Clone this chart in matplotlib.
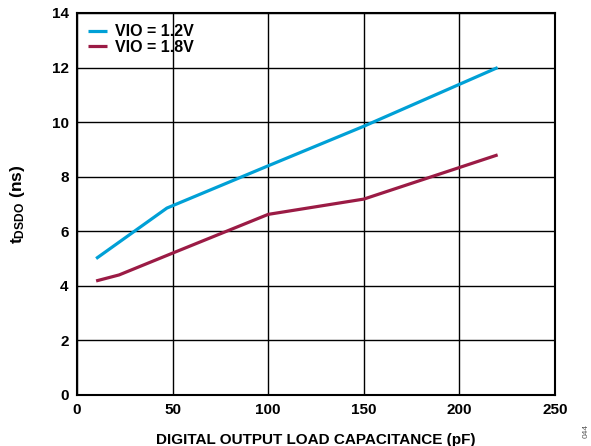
import matplotlib
matplotlib.use("Agg")
import matplotlib.pyplot as plt

plt.rcParams['font.family'] = ['Liberation Sans', 'DejaVu Sans']
plt.rcParams['mathtext.fontset'] = 'custom'
plt.rcParams['mathtext.rm'] = 'Liberation Sans:bold'
plt.rcParams['mathtext.bf'] = 'Liberation Sans:bold'

x_12 = [10, 47, 100, 150, 220]
y_12 = [5.0, 6.85, 8.4, 9.85, 12.0]
x_18 = [10, 22, 50, 100, 150, 220]
y_18 = [4.18, 4.4, 5.2, 6.62, 7.18, 8.8]
labels = ["VIO = 1.2V", "VIO = 1.8V"]
colors = ["#00a0d6", "#9b1b45"]
xticks = [0, 50, 100, 150, 200, 250]
yticks = [0, 2, 4, 6, 8, 10, 12, 14]

fig = plt.figure(figsize=(5.91, 4.46), dpi=100)
ax = fig.add_axes([77/591, 1 - 395/446, (555-77)/591, (395-13)/446])

ax.plot(x_12, y_12, color=colors[0], lw=2.3, label=labels[0], solid_capstyle='butt')
ax.plot(x_18, y_18, color=colors[1], lw=2.3, label=labels[1], solid_capstyle='butt')

ax.set_xlim(0, 250)
ax.set_ylim(0, 14)
ax.set_xticks(xticks)
ax.set_yticks(yticks)
ax.grid(True, color='black', lw=1.0)
ax.set_axisbelow(True)
for s in ax.spines.values():
    s.set_linewidth(1.5)
ax.tick_params(length=0, pad=6, labelsize=11)
for t in ax.get_xticklabels() + ax.get_yticklabels():
    t.set_fontweight('bold')

ax.set_xlabel("DIGITAL OUTPUT LOAD CAPACITANCE (pF)", fontsize=11, fontweight='bold', labelpad=11)
ax.set_ylabel(r"$\mathregular{t_{DSDO}}$ (ns)", fontsize=12.5, fontweight='bold', labelpad=18)

leg = ax.legend(loc='upper left', frameon=False, fontsize=11.5, handlelength=1.2,
                handletextpad=0.5, labelspacing=0.05, borderaxespad=0.3,
                bbox_to_anchor=(0.0, 1.0))
for t in leg.get_texts():
    t.set_fontweight('bold')

fig.text(586/591, 1 - 424/446, "044", rotation=90, fontsize=6, color='#555555',
         ha='center', va='top')

fig.savefig("out.png", dpi=100)
